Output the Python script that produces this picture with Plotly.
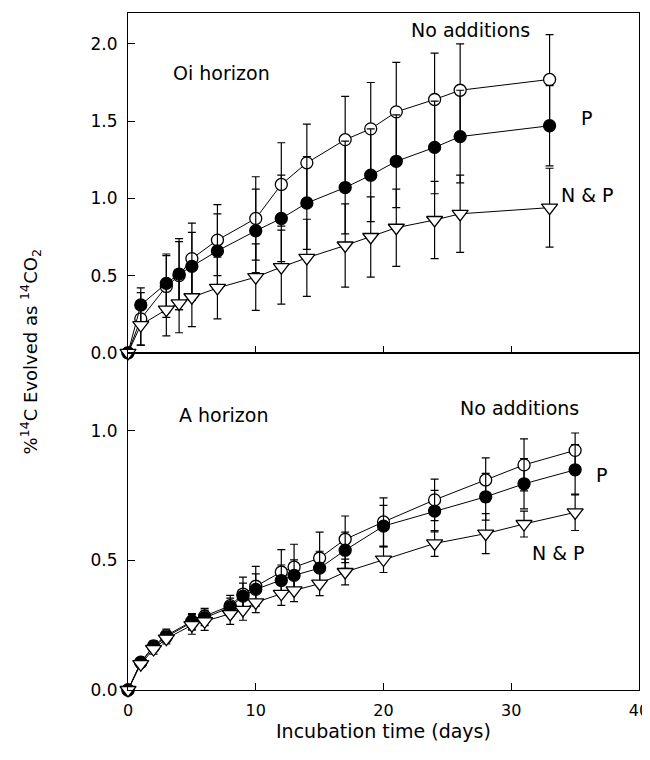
import plotly.graph_objects as go
from plotly.subplots import make_subplots

# incubation days
t_oi = [0, 1, 3, 4, 5, 7, 10, 12, 14, 17, 19, 21, 24, 26, 33]
t_a = [0, 1, 2, 3, 5, 6, 8, 9, 10, 12, 13, 15, 17, 20, 24, 28, 31, 35]

# Oi horizon
oi_none = [0, 0.22, 0.43, 0.50, 0.61, 0.73, 0.87, 1.09, 1.23, 1.38, 1.45, 1.56, 1.64, 1.70, 1.77]
oi_none_err = [0, 0.17, 0.20, 0.22, 0.23, 0.23, 0.27, 0.27, 0.25, 0.28, 0.30, 0.32, 0.30, 0.30, 0.29]
oi_p = [0, 0.31, 0.45, 0.51, 0.56, 0.66, 0.79, 0.87, 0.97, 1.07, 1.15, 1.24, 1.33, 1.40, 1.47]
oi_p_err = [0, 0.11, 0.19, 0.23, 0.22, 0.24, 0.27, 0.28, 0.30, 0.30, 0.30, 0.30, 0.30, 0.30, 0.26]
oi_np = [0, 0.18, 0.28, 0.32, 0.36, 0.42, 0.49, 0.555, 0.615, 0.695, 0.75, 0.81, 0.86, 0.90, 0.94]
oi_np_err = [0, 0.13, 0.17, 0.19, 0.19, 0.20, 0.215, 0.24, 0.25, 0.27, 0.26, 0.25, 0.25, 0.25, 0.255]

# A horizon
a_none = [0, 0.107, 0.17, 0.21, 0.265, 0.285, 0.325, 0.37, 0.40, 0.455, 0.474, 0.509, 0.581, 0.648, 0.733, 0.81, 0.868, 0.924]
a_none_err = [0, 0.015, 0.02, 0.025, 0.03, 0.03, 0.04, 0.065, 0.077, 0.086, 0.088, 0.10, 0.09, 0.093, 0.08, 0.085, 0.10, 0.067]
a_p = [0, 0.106, 0.167, 0.205, 0.261, 0.278, 0.319, 0.362, 0.388, 0.422, 0.442, 0.47, 0.539, 0.632, 0.69, 0.745, 0.795, 0.849]
a_p_err = [0, 0.012, 0.018, 0.02, 0.03, 0.03, 0.035, 0.05, 0.06, 0.06, 0.06, 0.065, 0.07, 0.08, 0.08, 0.09, 0.097, 0.097]
a_np = [0, 0.10, 0.158, 0.198, 0.25, 0.265, 0.293, 0.309, 0.338, 0.371, 0.384, 0.41, 0.455, 0.503, 0.565, 0.603, 0.64, 0.685]
a_np_err = [0, 0.012, 0.02, 0.02, 0.035, 0.035, 0.04, 0.04, 0.04, 0.045, 0.043, 0.046, 0.05, 0.05, 0.05, 0.077, 0.05, 0.07]

FONT = "DejaVu Sans"

fig = make_subplots(rows=2, cols=1, shared_xaxes=True, vertical_spacing=0,
                    row_heights=[0.502, 0.498])


def add_series(x, y, err, symbol, fill, row):
    fig.add_trace(go.Scatter(
        x=x, y=y, mode="lines+markers", cliponaxis=False, showlegend=False,
        line=dict(color="black", width=1),
        marker=dict(symbol=symbol, size=12 if "circle" in symbol else 14,
                    color=fill, line=dict(color="black", width=1.3)),
        error_y=dict(type="data", array=err, color="black", thickness=1.2, width=4),
    ), row=row, col=1)


add_series(t_oi, oi_none, oi_none_err, "circle", "white", 1)
add_series(t_oi, oi_p, oi_p_err, "circle", "black", 1)
add_series(t_oi, oi_np, oi_np_err, "triangle-down", "white", 1)

add_series(t_a, a_none, a_none_err, "circle", "white", 2)
add_series(t_a, a_p, a_p_err, "circle", "black", 2)
add_series(t_a, a_np, a_np_err, "triangle-down", "white", 2)

axis_style = dict(showline=True, linecolor="black", linewidth=1.2, mirror=True,
                  ticks="inside", ticklen=7, tickcolor="black", showgrid=False,
                  zeroline=False, automargin=False, ticklabelstandoff=6,
                  tickfont=dict(family=FONT, size=17, color="black"))

fig.update_xaxes(range=[0, 40], dtick=10, **axis_style)
fig.update_xaxes(tickfont=dict(family=FONT, size=16, color="black"))
fig.update_yaxes(**axis_style)
fig.update_yaxes(range=[0, 2.2], tickvals=[0, 0.5, 1.0, 1.5, 2.0], tickformat=".1f", row=1, col=1)
fig.update_yaxes(range=[0, 1.3], tickvals=[0, 0.5, 1.0], tickformat=".1f", row=2, col=1)

labels = [
    (3.4, 1.81, "Oi horizon", "y"),
    (22.0, 2.09, "No additions", "y"),
    (35.3, 1.52, "P", "y"),
    (33.7, 1.02, "N & P", "y"),
    (3.8, 1.062, "A horizon", "y2"),
    (25.8, 1.089, "No additions", "y2"),
    (36.5, 0.829, "P", "y2"),
    (31.5, 0.527, "N & P", "y2"),
]
for x, y, txt, yref in labels:
    fig.add_annotation(x=x, y=y, xref="x" if yref == "y" else "x2", yref=yref,
                       text=txt, showarrow=False, xanchor="left", yanchor="middle",
                       font=dict(family=FONT, size=19, color="black"))

fig.add_annotation(xref="paper", yref="paper", x=-0.192, y=0.5, xanchor="center",
                   yanchor="middle", textangle=-90,
                   text="%<sup>14</sup>C Evolved as <sup>14</sup>CO<sub>2</sub>",
                   showarrow=False, font=dict(family=FONT, size=18, color="black"))
fig.add_annotation(xref="paper", yref="paper", x=0.5, y=-0.06, yanchor="middle",
                   text="Incubation time (days)", showarrow=False,
                   font=dict(family=FONT, size=19, color="black"))

# page body has an 8px margin, so the figure starts 8px in from the corner
fig.update_layout(width=642, height=736, plot_bgcolor="white", paper_bgcolor="white",
                  margin=dict(l=120, r=11, t=5, b=54))

fig.write_html("out.html")
